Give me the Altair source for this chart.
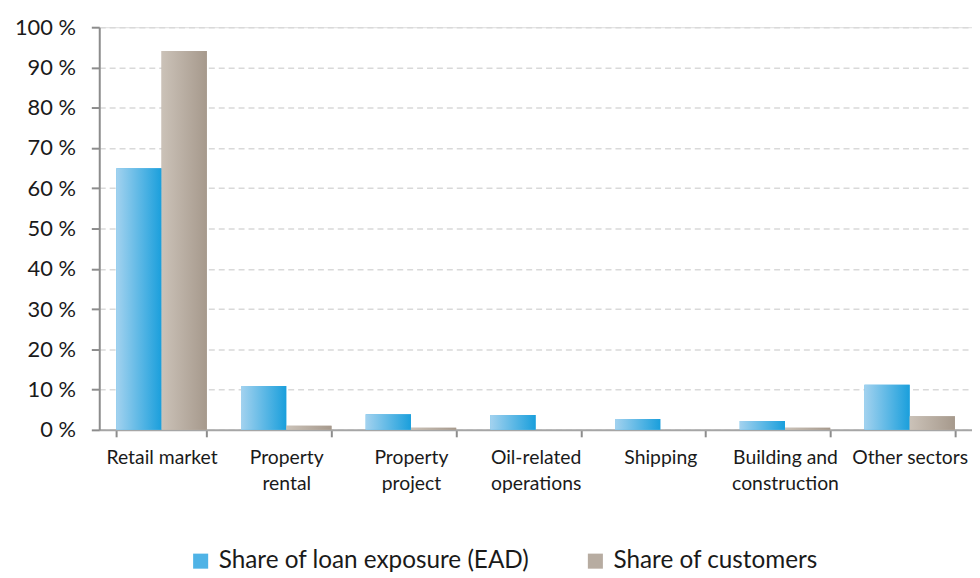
import altair as alt
import pandas as pd

categories = ["Retail market", "Property rental", "Property project", "Oil-related operations",
              "Shipping", "Building and construction", "Other sectors"]
label_lines = {
    "Property rental": ["Property", "rental"],
    "Property project": ["Property", "project"],
    "Oil-related operations": ["Oil-related", "operations"],
    "Building and construction": ["Building and", "construction"],
}
series = ["Share of loan exposure (EAD)", "Share of customers"]
ead = [65.0, 10.9, 3.9, 3.7, 2.7, 2.2, 11.2]
customers = [94.1, 1.0, 0.5, 0.0, 0.0, 0.5, 3.4]
y_ticks = [0, 10, 20, 30, 40, 50, 60, 70, 80, 90, 100]

rows = []
for c, a, b in zip(categories, ead, customers):
    rows.append({"category": c, "series": series[0], "value": a})
    rows.append({"category": c, "series": series[1], "value": b})
df = pd.DataFrame(rows)

FONT = "Lato"
solid_colors = ["#4fb3e6", "#b7aca1"]
grad_stops = [
    [("#a3d2ef", 0), ("#1a9fdc", 1)],
    [("#cbc2b8", 0), ("#a6998c", 1)],
]

expr = "datum.label"
for k, v in label_lines.items():
    expr = f"datum.label == '{k}' ? ['{v[0]}', '{v[1]}'] : (" + expr + ")"

x_enc = alt.X(
    "category:N", sort=categories, title=None,
    scale=alt.Scale(paddingInner=0.274, paddingOuter=0.137),
    axis=alt.Axis(labelAngle=0, labelExpr=expr, labelFont=FONT, labelFontSize=19.5,
                  labelColor="#1a1a1a", labelPadding=12, labelLineHeight=26,
                  labelBaseline="top", labelLimit=0,
                  tickBand="extent", tickSize=7, tickColor="#8c8c8c", tickWidth=2,
                  domainColor="#a6a6a6", domainWidth=2, grid=False, labelOverlap=False),
)
xo_enc = alt.XOffset("series:N", sort=series,
                     scale=alt.Scale(domain=series, paddingInner=0, paddingOuter=0))
y_enc = alt.Y(
    "value:Q", title=None,
    scale=alt.Scale(domain=[0, 100], nice=False),
    axis=alt.Axis(values=y_ticks, labelExpr="datum.value + ' %'", labelFont=FONT,
                  labelFontSize=22, labelColor="#1a1a1a", labelPadding=16,
                  tickSize=8, tickColor="#8c8c8c", tickWidth=2,
                  domainColor="#8c8c8c", domainWidth=2,
                  grid=True, gridColor="#d9d9d9", gridDash=[6, 4], gridWidth=1.5),
)

base = alt.Chart(df).encode(x=x_enc, xOffset=xo_enc, y=y_enc)

solid = base.mark_bar().encode(
    color=alt.Color(
        "series:N", sort=series,
        scale=alt.Scale(domain=series, range=solid_colors),
        legend=alt.Legend(title=None, orient="none", legendX=90, legendY=526,
                          direction="horizontal", symbolType="square", symbolSize=230,
                          symbolStrokeWidth=0, labelFont=FONT, labelFontSize=24.5,
                          labelColor="#1a1a1a", columnPadding=54, labelOffset=6,
                          labelLimit=0),
    )
)

layers = [solid]
for s, stops in zip(series, grad_stops):
    g = alt.Gradient(gradient="linear", x1=0, x2=1, y1=0, y2=0,
                     stops=[alt.GradientStop(color=c, offset=o) for c, o in stops])
    layers.append(base.mark_bar(fill=g).transform_filter(alt.datum.series == s))

chart = alt.layer(*layers).properties(
    width=880, height=406,
    autosize=alt.AutoSizeParams(type="none"),
    padding={"left": 92, "top": 17, "right": 0, "bottom": 147},
).configure_view(stroke=None).configure(background="white")

chart.save("out.html", embed_options={"renderer": "svg", "actions": False})
